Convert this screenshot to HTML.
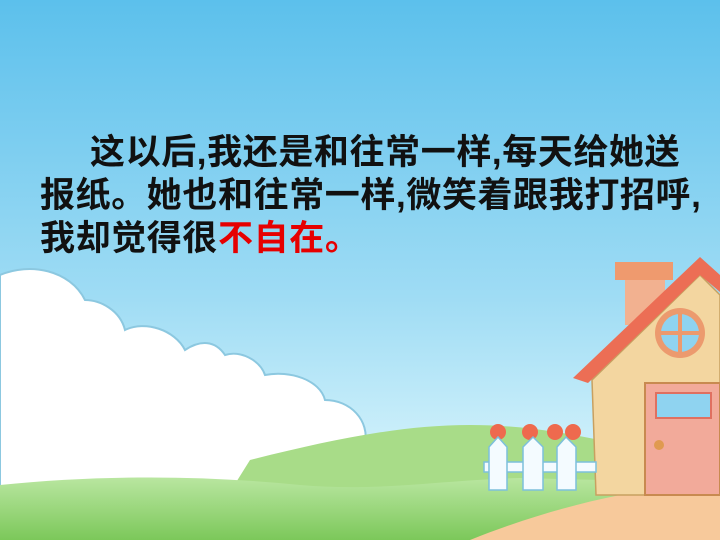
<!DOCTYPE html>
<html><head><meta charset="utf-8"><style>
html,body{margin:0;padding:0;width:720px;height:540px;overflow:hidden}
#scene{position:absolute;left:0;top:0}
#txt{position:absolute;left:40px;top:131px;width:680px;font-family:"Liberation Sans","Noto Sans CJK SC",sans-serif;font-weight:bold;font-size:35px;line-height:43px;color:#111;letter-spacing:0.6px;white-space:nowrap}
.red{color:#e60000}
</style></head><body>
<svg id="scene" width="720" height="540" viewBox="0 0 720 540">
<defs>
<linearGradient id="sky" x1="0" y1="0" x2="0" y2="1">
<stop offset="0" stop-color="#5cc0ec"/><stop offset="0.55" stop-color="#9fdcf4"/><stop offset="0.8" stop-color="#c9eefa"/></linearGradient>
<linearGradient id="grass" x1="0" y1="0" x2="0" y2="1">
<stop offset="0" stop-color="#b9e6a0"/><stop offset="1" stop-color="#7cc85a"/></linearGradient>
</defs>
<rect width="720" height="540" fill="url(#sky)"/>
<path d="M0 275 C30 262 70 270 85 300 C100 300 120 310 125 330 C145 320 175 330 185 350 C200 340 215 340 225 355 C240 350 260 360 265 375 C290 370 320 380 325 400 C350 400 370 420 365 445 L365 540 L0 540 Z" fill="#ffffff" stroke="#8cc8e0" stroke-width="2"/>
<path d="M250 460 C330 440 400 425 470 425 C520 425 560 432 600 440 L720 460 L720 540 L200 540 Z" fill="#a8dc88"/>
<path d="M0 485 C100 475 200 475 300 485 C380 492 440 480 520 478 L600 480 L600 540 L0 540 Z" fill="url(#grass)"/>
<path d="M470 540 C520 520 570 505 620 495 L720 490 L720 540 Z" fill="#f7c99b"/>
<g>
<rect x="615" y="262" width="58" height="18" fill="#ef9a6e"/>
<rect x="625" y="280" width="40" height="45" fill="#f2b190"/>
<path d="M592 380 L700 275 L720 295 L720 495 L596 495 Z" fill="#f3d6a0" stroke="#c8a060" stroke-width="1.5"/>
<path d="M573 378 L700 257 L720 275 L720 292 L700 275 L588 383 Z" fill="#ec6e55"/>
<circle cx="680" cy="333" r="25" fill="#ec9a6e"/><circle cx="680" cy="333" r="19" fill="#8fd3f0"/>
<rect x="678" y="313" width="4" height="40" fill="#ec9a6e"/><rect x="660" y="331" width="40" height="4" fill="#ec9a6e"/>
<rect x="645" y="383" width="75" height="112" fill="#f2aa9a" stroke="#c88a50" stroke-width="2"/>
<rect x="656" y="393" width="55" height="25" fill="#8fd3f0" stroke="#e07060" stroke-width="2"/>
<circle cx="659" cy="445" r="5" fill="#e09a50"/>
</g>
<g fill="#f4fbff" stroke="#7cc0dc" stroke-width="1.5">
<circle cx="498" cy="432" r="8" fill="#ee6a4e" stroke="none"/><circle cx="530" cy="432" r="8" fill="#ee6a4e" stroke="none"/><circle cx="555" cy="432" r="8" fill="#ee6a4e" stroke="none"/><circle cx="573" cy="432" r="8" fill="#ee6a4e" stroke="none"/>
<rect x="484" y="462" width="112" height="10"/>
<path d="M489 490 L489 447 L498 437 L507 447 L507 490 Z"/>
<path d="M523 490 L523 447 L533 437 L543 447 L543 490 Z"/>
<path d="M557 490 L557 447 L566 437 L576 447 L576 490 Z"/>
</g>
</svg>
<div id="txt"><span style="padding-left:50px"></span>这以后,我还是和往常一样,每天给她送<br>报纸。她也和往常一样,微笑着跟我打招呼,<br>我却觉得很<span class="red">不自在。</span></div>
</body></html>
